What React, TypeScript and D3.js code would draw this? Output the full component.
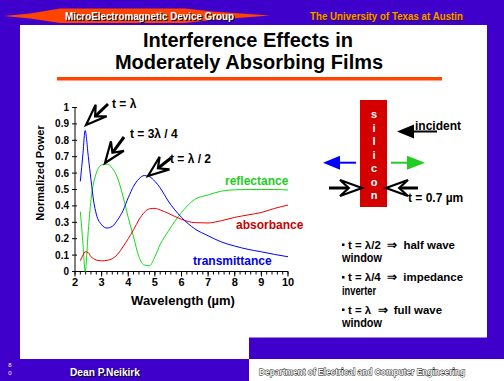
import React from "react";
import * as d3 from "d3";

const wavelength = [2.2, 2.3, 2.38, 2.5, 2.6, 2.7, 2.8, 3.0, 3.2, 3.4, 3.6, 3.8, 4.0, 4.2, 4.4, 4.6, 4.8, 5.0, 5.2, 5.5, 6.0, 6.5, 7.0, 7.5, 8.0, 8.5, 9.0, 9.5, 10.0];
const transmittance = [0.55, 0.72, 0.86, 0.7, 0.56, 0.43, 0.35, 0.285, 0.265, 0.275, 0.315, 0.37, 0.45, 0.52, 0.565, 0.585, 0.578, 0.55, 0.51, 0.43, 0.33, 0.26, 0.218, 0.18, 0.155, 0.135, 0.12, 0.104, 0.09];
const reflectance = [0.365, 0.17, 0.0, 0.25, 0.436, 0.54, 0.6, 0.65, 0.655, 0.63, 0.57, 0.46, 0.33, 0.21, 0.09, 0.04, 0.035, 0.09, 0.165, 0.245, 0.36, 0.44, 0.467, 0.49, 0.498, 0.5, 0.5, 0.5, 0.497];
const absorbance = [0.066, 0.1, 0.12, 0.115, 0.09, 0.078, 0.07, 0.065, 0.068, 0.078, 0.105, 0.15, 0.2, 0.255, 0.315, 0.36, 0.382, 0.385, 0.375, 0.355, 0.318, 0.298, 0.296, 0.31, 0.33, 0.345, 0.36, 0.385, 0.405];

const yTicks = [0, 0.1, 0.2, 0.3, 0.4, 0.5, 0.6, 0.7, 0.8, 0.9, 1];
const yTickLabels = ["0", "0.1", "0.2", "0.3", "0.4", "0.5", "0.6", "0.7", "0.8", "0.9", "1"];
const xTicks = [2, 3, 4, 5, 6, 7, 8, 9, 10];
const xMinorTicks = d3.range(2, 10.01, 0.2);

const siliconLetters = ["s", "i", "l", "i", "c", "o", "n"];
const bulletFormulas = ["t = λ/2", "t = λ/4", "t = λ"];
const bulletMeanings = ["half wave", "impedance", "full wave"];
const bulletSecond = ["window", "inverter", "window"];

const PURPLE = "#4000cc";
const ORANGE = "#ff4400";
const FONT = "'Liberation Sans', Arial, sans-serif";

function hollowArrow(tip: [number, number], tail: [number, number], L: number, W: number) {
  const dx = tail[0] - tip[0], dy = tail[1] - tip[1];
  const len = Math.hypot(dx, dy);
  const ux = dx / len, uy = dy / len;
  const nx = -uy, ny = ux;
  const b1 = [tip[0] + ux * L + nx * W / 2, tip[1] + uy * L + ny * W / 2];
  const b2 = [tip[0] + ux * L - nx * W / 2, tip[1] + uy * L - ny * W / 2];
  const notch = [tip[0] + ux * L * 0.6, tip[1] + uy * L * 0.6];
  return { head: `M${tip[0]},${tip[1]}L${b1[0]},${b1[1]}L${notch[0]},${notch[1]}L${b2[0]},${b2[1]}Z`, notch, tail };
}

function HollowArrow({ tip, tail, L = 20, W = 16 }: any) {
  const a = hollowArrow(tip, tail, L, W);
  return (
    <g>
      <line x1={a.notch[0]} y1={a.notch[1]} x2={a.tail[0]} y2={a.tail[1]} stroke="#000" strokeWidth={3} />
      <path d={a.head} fill="#fff" stroke="#000" strokeWidth={2.2} strokeLinejoin="miter" />
    </g>
  );
}

function FilledArrow({ tip, base, end, color, hw = 7 }: any) {
  const dir = Math.sign(base - tip);
  return (
    <g>
      <path d={`M${tip},0L${base},${-hw}L${base},${hw}Z`} fill={color} />
      <line x1={base - dir} y1={0} x2={end} y2={0} stroke={color} strokeWidth={2} />
    </g>
  );
}

const bulletEnds = [455, 463, 442];
const secondEnds = [382, 376, 382];

export default function App() {
  const x = d3.scaleLinear().domain([2, 10]).range([75, 288]);
  const y = d3.scaleLinear().domain([0, 1]).range([271.5, 107.5]);
  const line = (vals: number[]) =>
    d3.line<number>().x((_, i) => x(wavelength[i])).y((d) => y(d)).curve(d3.curveMonotoneX)(vals) || "";

  return (
    <svg width={504} height={381} style={{ position: "absolute", left: 0, top: 0 }} fontFamily={FONT}>
      <rect x={0} y={0} width={504} height={381} fill={PURPLE} />
      <rect x={20} y={25} width={229} height={334} fill="#fff" />
      <rect x={249} y={25} width={238} height={312.5} fill="#fff" />
      <rect x={249} y={359} width={255} height={22} fill="#fff" />

      {/* header */}
      <polygon points="4,16 30,13.5 60,8.5 185,8.5 212,11.5 270,15.5 212,20 185,23 60,23 30,18.5" fill={ORANGE} />
      <text x={66} y={21} fontSize={10.5} fontWeight="bold" fill="#000" textLength={169} lengthAdjust="spacingAndGlyphs">MicroElectromagnetic Device Group</text>
      <text x={65} y={20} fontSize={10.5} fontWeight="bold" fill="#fff" textLength={169} lengthAdjust="spacingAndGlyphs">MicroElectromagnetic Device Group</text>
      <text x={310.7} y={20.7} fontSize={11} fontWeight="bold" fill="#331100" textLength={153} lengthAdjust="spacingAndGlyphs">The University of Texas at Austin</text>
      <text x={310} y={20} fontSize={11} fontWeight="bold" fill="#ff9900" textLength={153} lengthAdjust="spacingAndGlyphs">The University of Texas at Austin</text>

      {/* title */}
      <text x={248} y={46.5} fontSize={20} fontWeight="bold" textAnchor="middle" fill="#000">Interference Effects in</text>
      <text x={249} y={68.5} fontSize={20} fontWeight="bold" textAnchor="middle" fill="#000">Moderately Absorbing Films</text>
      <rect x={57} y={77} width={385} height={3.5} fill={ORANGE} />

      {/* axes */}
      <line x1={x(2)} y1={y(0)} x2={x(2)} y2={y(1)} stroke="#000" strokeWidth={1} />
      <line x1={x(2)} y1={y(0)} x2={x(10)} y2={y(0)} stroke="#000" strokeWidth={1} />
      {yTicks.map((t, i) => (
        <g key={"y" + i}>
          <line x1={x(2) - 3} x2={x(2) + 2} y1={y(t)} y2={y(t)} stroke="#000" />
          <text x={69} y={y(t) + 3.5} fontSize={10} fontWeight="bold" textAnchor="end">{yTickLabels[i]}</text>
        </g>
      ))}
      {xMinorTicks.map((t, i) => (
        <line key={"xm" + i} x1={x(t)} x2={x(t)} y1={y(0)} y2={y(0) + 3} stroke="#000" />
      ))}
      {xTicks.map((t, i) => (
        <g key={"x" + i}>
          <line x1={x(t)} x2={x(t)} y1={y(0)} y2={y(0) + 5} stroke="#000" />
          <text x={x(t)} y={285.5} fontSize={11} fontWeight="bold" textAnchor="middle">{t}</text>
        </g>
      ))}
      <text transform="translate(44,173) rotate(-90)" fontSize={11} fontWeight="bold" textAnchor="middle">Normalized Power</text>
      <text x={183} y={305} fontSize={13} fontWeight="bold" textAnchor="middle">Wavelength (µm)</text>

      {/* curves */}
      <path d={line(reflectance)} fill="none" stroke="#11dd11" strokeWidth={1} />
      <path d={line(absorbance)} fill="none" stroke="#ee0000" strokeWidth={1} />
      <path d={line(transmittance)} fill="none" stroke="#0000ff" strokeWidth={1} />

      <text x={225} y={185} fontSize={12} fontWeight="bold" fill="#22cc22">reflectance</text>
      <text x={236} y={229} fontSize={12} fontWeight="bold" fill="#cc0000">absorbance</text>
      <text x={193} y={265} fontSize={12} fontWeight="bold" fill="#0000ee">transmittance</text>

      {/* annotations */}
      <HollowArrow tip={[86, 125]} tail={[108, 104]} L={21} W={16} />
      <text x={112} y={108} fontSize={12} fontWeight="bold">t = λ</text>
      <HollowArrow tip={[105, 163]} tail={[124, 137]} L={21} W={16} />
      <text x={130} y={138} fontSize={12} fontWeight="bold">t = 3λ / 4</text>
      <HollowArrow tip={[148, 176]} tail={[171, 158]} L={21} W={16} />
      <text x={170} y={163} fontSize={12} fontWeight="bold">t = λ / 2</text>

      {/* silicon diagram */}
      <rect x={360} y={100} width={27} height={107} fill="#d40000" />
      {siliconLetters.map((c, i) => (
        <text key={"s" + i} x={374} y={118 + i * 13.5} fontSize={11} fontWeight="bold" fill="#fff" textAnchor="middle">{c}</text>
      ))}
      <g transform="translate(0,131.5)">
        <FilledArrow tip={397} base={414} end={437} color="#000" hw={7} />
      </g>
      <text x={415} y={130} fontSize={12} fontWeight="bold">incident</text>
      <g transform="translate(0,162.7)">
        <FilledArrow tip={323} base={340} end={356} color="#0000ff" hw={7} />
        <FilledArrow tip={425} base={407} end={391} color="#22cc22" hw={7} />
      </g>
      <HollowArrow tip={[362, 188]} tail={[329, 188]} L={22} W={16} />
      <HollowArrow tip={[386, 188]} tail={[418, 188]} L={22} W={16} />
      <text x={408} y={202} fontSize={12} fontWeight="bold">t = 0.7 µm</text>

      {bulletFormulas.map((f, i) => {
        const by = 248.5 + i * 32.5;
        return (
          <g key={"b" + i}>
            <rect x={342} y={by - 5} width={2.5} height={2.5} fill="#000" />
            <text x={348} y={by} fontSize={11.5} fontWeight="bold" style={{ whiteSpace: "pre" }} textLength={bulletEnds[i] - 348} lengthAdjust="spacingAndGlyphs">{`${f}  ⇒  ${bulletMeanings[i]}`}</text>
            <text x={342} y={by + 13.5} fontSize={12} fontWeight="bold" textLength={secondEnds[i] - 342} lengthAdjust="spacingAndGlyphs">{bulletSecond[i]}</text>
          </g>
        );
      })}

      {/* footer */}
      <text x={10} y={367} fontSize={6} fill="#fff" textAnchor="middle">8</text>
      <text x={10} y={375} fontSize={6} fill="#fff" textAnchor="middle">0</text>
      <text x={71} y={377} fontSize={11} fontWeight="bold" fill="#000" textLength={70} lengthAdjust="spacingAndGlyphs">Dean P.Neikirk</text>
      <text x={70} y={376} fontSize={11} fontWeight="bold" fill="#fff" textLength={70} lengthAdjust="spacingAndGlyphs">Dean P.Neikirk</text>
      <text x={259} y={375} fontSize={9.5} fontWeight="bold" fill="#fff" stroke="#000" strokeWidth={0.9} paintOrder="stroke" textLength={206} lengthAdjust="spacingAndGlyphs">Department of Electrical and Computer Engineering</text>
    </svg>
  );
}
